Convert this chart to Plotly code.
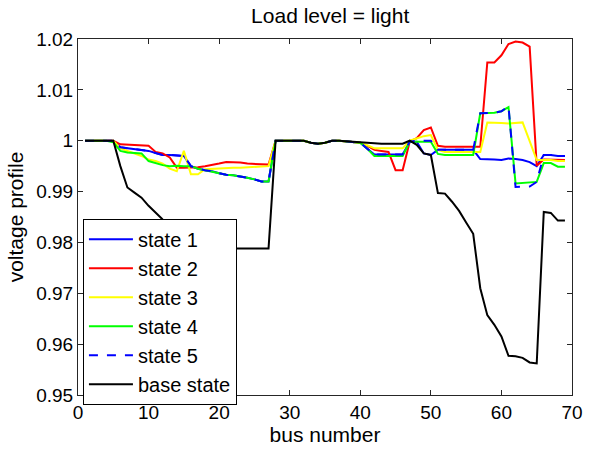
import plotly.graph_objects as go

bus = list(range(1, 70))

state1 = [1.0, 1.0, 1.0, 1.0, 1.0, 0.9987, 0.9985, 0.9984, 0.9982, 0.998,
          0.9976, 0.9972, 0.9972, 0.9971, 0.997, 0.995, 0.9945, 0.9942, 0.994, 0.9936,
          0.9933, 0.9932, 0.993, 0.9927, 0.9924, 0.992, 0.992, 1.0, 1.0, 1.0,
          1.0, 1.0, 0.9996, 0.9994, 0.9996, 1.0, 1.0, 0.9999, 0.9998, 0.9996,
          0.9984, 0.9973, 0.9973, 0.9973, 0.9973, 0.9973, 0.9998, 0.9998, 0.9975, 0.9972,
          0.9982, 0.9982, 0.9982, 0.9982, 0.9982, 0.9982, 0.9964, 0.9964, 0.9963, 0.9962,
          0.9965, 0.9964, 0.9962, 0.9958, 0.995, 0.9972, 0.9972, 0.997, 0.997]

state2 = [1.0, 1.0, 1.0, 1.0, 1.0, 0.9993, 0.9992, 0.9992, 0.9991, 0.999,
          0.9978, 0.9975, 0.9967, 0.9947, 0.9947, 0.9947, 0.9948, 0.995, 0.9952, 0.9955,
          0.9958, 0.9958, 0.9957, 0.9955, 0.9954, 0.9954, 0.9953, 1.0, 1.0, 1.0,
          1.0, 1.0, 0.9996, 0.9994, 0.9996, 1.0, 1.0, 0.9999, 0.9998, 0.9996,
          0.999, 0.9982, 0.998, 0.9978, 0.9942, 0.9942, 0.9998, 1.0005, 1.0021, 1.0026,
          0.999, 0.9988, 0.9988, 0.9988, 0.9988, 0.9988, 0.9988, 1.0154, 1.0154, 1.0168,
          1.019, 1.0195, 1.0193, 1.0185, 0.9951, 0.9963, 0.9963, 0.9962, 0.9962]

state3 = [1.0, 1.0, 1.0, 1.0, 1.0, 0.9985, 0.998, 0.9976, 0.997, 0.9963,
          0.996, 0.9955, 0.9945, 0.994, 0.998, 0.9934, 0.9934, 0.9944, 0.9945, 0.9946,
          0.9947, 0.9947, 0.9947, 0.9948, 0.9948, 0.9949, 0.995, 1.0, 1.0, 1.0,
          1.0, 1.0, 0.9996, 0.9994, 0.9996, 1.0, 1.0, 0.9999, 0.9998, 0.9996,
          0.9991, 0.9985, 0.9985, 0.9985, 0.9985, 0.9985, 1.0, 1.0005, 1.0009, 1.0011,
          0.9982, 0.9978, 0.9978, 0.9978, 0.9978, 0.9978, 0.9978, 1.0036, 1.0036, 1.0035,
          1.0034, 1.0035, 1.0036, 0.9999, 0.9962, 0.9962, 0.9962, 0.996, 0.996]

state4 = [1.0, 1.0, 1.0, 1.0, 0.9997, 0.998, 0.9977, 0.9976, 0.9975, 0.996,
          0.9956, 0.9952, 0.995, 0.9951, 0.995, 0.995, 0.9945, 0.9942, 0.994, 0.9936,
          0.9933, 0.9932, 0.993, 0.9927, 0.9924, 0.992, 0.992, 1.0, 1.0, 1.0,
          1.0, 1.0, 0.9996, 0.9994, 0.9996, 1.0, 1.0, 0.9999, 0.9998, 0.9996,
          0.9984, 0.997, 0.997, 0.997, 0.997, 0.997, 0.9998, 0.9998, 0.9998, 0.9998,
          0.9974, 0.9972, 0.9972, 0.9972, 0.9972, 0.9972, 1.0054, 1.0054, 1.0055, 1.0058,
          1.0066, 0.9916, 0.9917, 0.9918, 0.9919, 0.9956, 0.9956, 0.9949, 0.9949]

state5 = [1.0, 1.0, 1.0, 1.0, 1.0, 0.9987, 0.9985, 0.9984, 0.9982, 0.998,
          0.9976, 0.9972, 0.9972, 0.9971, 0.997, 0.995, 0.9945, 0.9942, 0.994, 0.9936,
          0.9933, 0.9932, 0.993, 0.9927, 0.9924, 0.992, 0.992, 1.0, 1.0, 1.0,
          1.0, 1.0, 0.9996, 0.9994, 0.9996, 1.0, 1.0, 0.9999, 0.9998, 0.9996,
          0.9984, 0.9973, 0.9973, 0.9973, 0.9973, 0.9973, 0.9998, 1.0, 1.0, 1.0,
          0.9982, 0.9982, 0.9982, 0.9982, 0.9982, 0.9982, 1.0054, 1.0054, 1.0055, 1.0058,
          1.0068, 0.9909, 0.9909, 0.991, 0.9919, 0.9972, 0.9972, 0.997, 0.997]

base = [1.0, 1.0, 1.0, 1.0, 1.0, 0.995, 0.9908, 0.9898, 0.9888, 0.9872,
        0.9859, 0.9845, 0.9835, 0.9825, 0.9815, 0.9805, 0.98, 0.9795, 0.979, 0.9788,
        0.9788, 0.9788, 0.9788, 0.9788, 0.9788, 0.9788, 0.9788, 1.0, 1.0, 1.0,
        1.0, 1.0, 0.9996, 0.9994, 0.9996, 1.0, 1.0, 0.9999, 0.9998, 0.9997,
        0.9995, 0.9994, 0.9994, 0.9994, 0.9994, 0.9994, 1.0, 0.9992, 0.9975, 0.9972,
        0.9897, 0.9896, 0.988, 0.9862, 0.9839, 0.9817, 0.971, 0.9657, 0.9638, 0.9615,
        0.9577, 0.9576, 0.9573, 0.9564, 0.9562, 0.986, 0.9858, 0.9843, 0.9843]

names = ["state 1", "state 2", "state 3", "state 4", "state 5", "base state"]
series = [state1, state2, state3, state4, state5, base]
colors = ["#0000FF", "#FF0000", "#FFFF00", "#00FF00", "#0000FF", "#000000"]
dashes = ["solid", "solid", "solid", "solid", "dash", "solid"]

y_ticks = [0.95, 0.96, 0.97, 0.98, 0.99, 1.0, 1.01, 1.02]
y_labels = ["0.95", "0.96", "0.97", "0.98", "0.99", "1", "1.01", "1.02"]
x_ticks = [0, 10, 20, 30, 40, 50, 60, 70]

FONT = "Liberation Sans, Arial, sans-serif"

fig = go.Figure()
for n, s, c, d in zip(names, series, colors, dashes):
    fig.add_trace(go.Scatter(x=bus, y=s, mode="lines", name=n,
                             line=dict(color=c, width=2, dash=d)))

axis_common = dict(showgrid=False, zeroline=False, showline=True, linecolor="#262626",
                   linewidth=1, mirror="ticks", ticks="inside", ticklen=5,
                   tickcolor="#262626", tickfont=dict(family=FONT, size=19, color="black"))

fig.update_layout(
    width=595, height=452,
    margin=dict(l=78, r=14, t=39, b=57),
    paper_bgcolor="white", plot_bgcolor="white",
    font=dict(family=FONT, size=19, color="black"),
    title=dict(text="Load level = light", x=0.555, xanchor="center", y=0.965,
               yanchor="middle", font=dict(family=FONT, size=21, color="black")),
    xaxis=dict(range=[0, 70], tickvals=x_ticks,
               title=dict(text="bus number", standoff=3, font=dict(size=21)), **axis_common),
    yaxis=dict(range=[0.95, 1.02], tickvals=y_ticks, ticktext=y_labels,
               title=dict(text="voltage profile", standoff=6, font=dict(size=21)), **axis_common),
    legend=dict(x=0.01, y=0.495, xanchor="left", yanchor="top", bgcolor="white",
                bordercolor="black", borderwidth=1, font=dict(family=FONT, size=20),
                itemwidth=44, tracegroupgap=0),
    showlegend=True,
)

fig.write_html("out.html")
